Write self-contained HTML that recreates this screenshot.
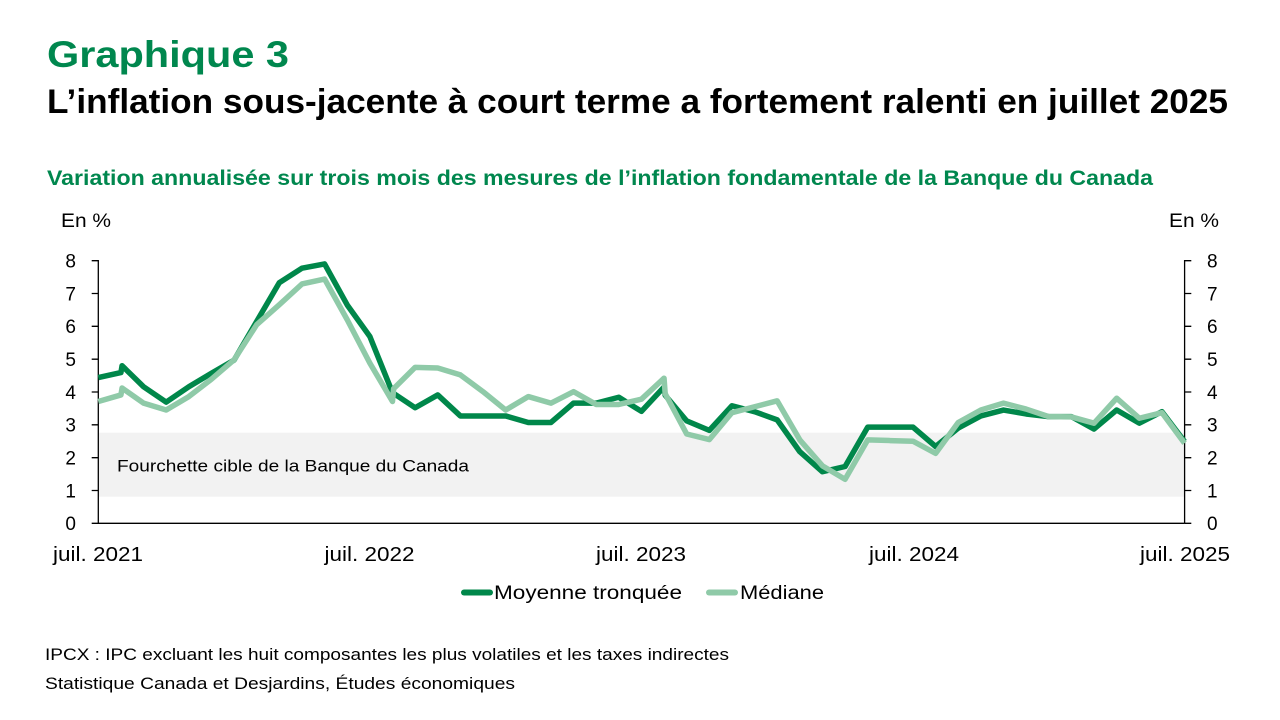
<!DOCTYPE html>
<html><head><meta charset="utf-8"><style>
html,body{margin:0;padding:0;background:#fff;}
svg{display:block;}
text{font-family:"Liberation Sans",sans-serif;}
</style></head><body>
<svg width="1280" height="720" viewBox="0 0 1280 720" xmlns="http://www.w3.org/2000/svg">
<rect width="1280" height="720" fill="#fff"/>
<text x="47" y="67" font-size="37" font-weight="bold" fill="#00874e" textLength="242" lengthAdjust="spacingAndGlyphs">Graphique 3</text>
<text x="47" y="113" font-size="34" font-weight="bold" fill="#000" textLength="1181" lengthAdjust="spacingAndGlyphs">L’inflation sous-jacente à court terme a fortement ralenti en juillet 2025</text>
<text x="47" y="185" font-size="21" font-weight="bold" fill="#00874e" textLength="1106" lengthAdjust="spacingAndGlyphs">Variation annualisée sur trois mois des mesures de l’inflation fondamentale de la Banque du Canada</text>
<text x="61" y="227" font-size="19" fill="#000" textLength="50" lengthAdjust="spacingAndGlyphs">En %</text>
<text x="1169" y="227" font-size="19" fill="#000" textLength="50" lengthAdjust="spacingAndGlyphs">En %</text>

<!-- band -->
<rect x="98.3" y="432.7" width="1086" height="64" fill="#f2f2f2"/>
<text x="117" y="471.5" font-size="17" fill="#000" textLength="352" lengthAdjust="spacingAndGlyphs">Fourchette cible de la Banque du Canada</text>

<!-- axes -->
<g stroke="#000" stroke-width="1.3" fill="none">
<line x1="98.3" y1="260" x2="98.3" y2="523.3"/>
<line x1="1184.6" y1="260" x2="1184.6" y2="523.3"/>
<line x1="91.7" y1="523.3" x2="1184.6" y2="523.3"/>
<path d="M91.7 260.7H98.3M91.7 293.5H98.3M91.7 326.3H98.3M91.7 359.2H98.3M91.7 392H98.3M91.7 424.8H98.3M91.7 457.7H98.3M91.7 490.5H98.3"/>
<path d="M1184.6 260.7H1191.3M1184.6 293.5H1191.3M1184.6 326.3H1191.3M1184.6 359.2H1191.3M1184.6 392H1191.3M1184.6 424.8H1191.3M1184.6 457.7H1191.3M1184.6 490.5H1191.3M1184.6 523.3H1191.3"/>
</g>
<g font-size="19" fill="#000" text-anchor="end">
<text x="76" y="267.5">8</text><text x="76" y="300.3">7</text><text x="76" y="333.1">6</text><text x="76" y="366">5</text><text x="76" y="398.8">4</text><text x="76" y="431.6">3</text><text x="76" y="464.5">2</text><text x="76" y="497.3">1</text><text x="76" y="530.1">0</text>
</g>
<g font-size="19" fill="#000" text-anchor="start">
<text x="1207" y="267.5">8</text><text x="1207" y="300.3">7</text><text x="1207" y="333.1">6</text><text x="1207" y="366">5</text><text x="1207" y="398.8">4</text><text x="1207" y="431.6">3</text><text x="1207" y="464.5">2</text><text x="1207" y="497.3">1</text><text x="1207" y="530.1">0</text>
</g>
<g font-size="20" fill="#000">
<text x="53" y="561" textLength="90" lengthAdjust="spacingAndGlyphs">juil. 2021</text>
<text x="324.5" y="561" textLength="90" lengthAdjust="spacingAndGlyphs">juil. 2022</text>
<text x="596" y="561" textLength="90" lengthAdjust="spacingAndGlyphs">juil. 2023</text>
<text x="869" y="561" textLength="90" lengthAdjust="spacingAndGlyphs">juil. 2024</text>
<text x="1140" y="561" textLength="90" lengthAdjust="spacingAndGlyphs">juil. 2025</text>
</g>

<!-- series -->
<g transform="translate(98.3,523.3) scale(22.63,-32.83)" fill="none" stroke-linejoin="round" stroke-linecap="butt">
<polyline vector-effect="non-scaling-stroke" stroke="#00874a" stroke-width="5.5" points="0,4.44 1,4.59 1.05,4.8 2,4.16 3,3.69 4,4.16 5,4.57 6,4.97 7,6.15 8,7.33 9,7.77 10,7.9 11,6.65 12,5.69 13,3.98 14,3.52 15,3.91 16,3.27 17,3.27 18,3.27 19,3.07 20,3.07 21,3.66 22,3.66 23,3.84 24,3.41 25,4.15 25.05,3.9 26,3.12 27,2.83 28,3.58 29,3.4 30,3.15 31,2.18 32,1.57 33,1.73 34,2.93 35,2.93 36,2.93 37,2.34 38,2.9 39,3.27 40,3.45 41,3.33 42,3.25 43,3.25 44,2.87 45,3.45 46,3.05 47,3.4 48,2.49"/>
<polyline vector-effect="non-scaling-stroke" stroke="#8fcaa8" stroke-width="5.5" points="0,3.71 1,3.91 1.05,4.12 2,3.66 3,3.45 4,3.86 5,4.39 6,4.98 7,6.05 8,6.66 9,7.29 10,7.44 11,6.2 12,4.88 13,3.71 13.05,4.1 14,4.75 15,4.73 16,4.52 17,4.01 18,3.45 19,3.86 20,3.66 21,4.01 22,3.62 23,3.62 24,3.78 25,4.42 25.05,3.95 26,2.72 27,2.55 28,3.37 29,3.55 30,3.73 31,2.54 32,1.75 33,1.34 34,2.54 35,2.52 36,2.5 37,2.13 38,3.07 39,3.45 40,3.66 41,3.48 42,3.25 43,3.24 44,3.05 45,3.81 46,3.2 47,3.37 48,2.44"/>
</g>

<!-- legend -->
<line x1="464" y1="592.5" x2="490" y2="592.5" stroke="#00874a" stroke-width="6" stroke-linecap="round"/>
<text x="494" y="599" font-size="19" fill="#000" textLength="188" lengthAdjust="spacingAndGlyphs">Moyenne tronquée</text>
<line x1="709" y1="592.5" x2="735" y2="592.5" stroke="#8fcaa8" stroke-width="6" stroke-linecap="round"/>
<text x="740" y="599" font-size="19" fill="#000" textLength="84" lengthAdjust="spacingAndGlyphs">Médiane</text>

<!-- footnotes -->
<text x="45" y="660" font-size="16.5" fill="#000" textLength="684" lengthAdjust="spacingAndGlyphs">IPCX : IPC excluant les huit composantes les plus volatiles et les taxes indirectes</text>
<text x="45" y="689" font-size="16.5" fill="#000" textLength="470" lengthAdjust="spacingAndGlyphs">Statistique Canada et Desjardins, Études économiques</text>
</svg>
</body></html>
